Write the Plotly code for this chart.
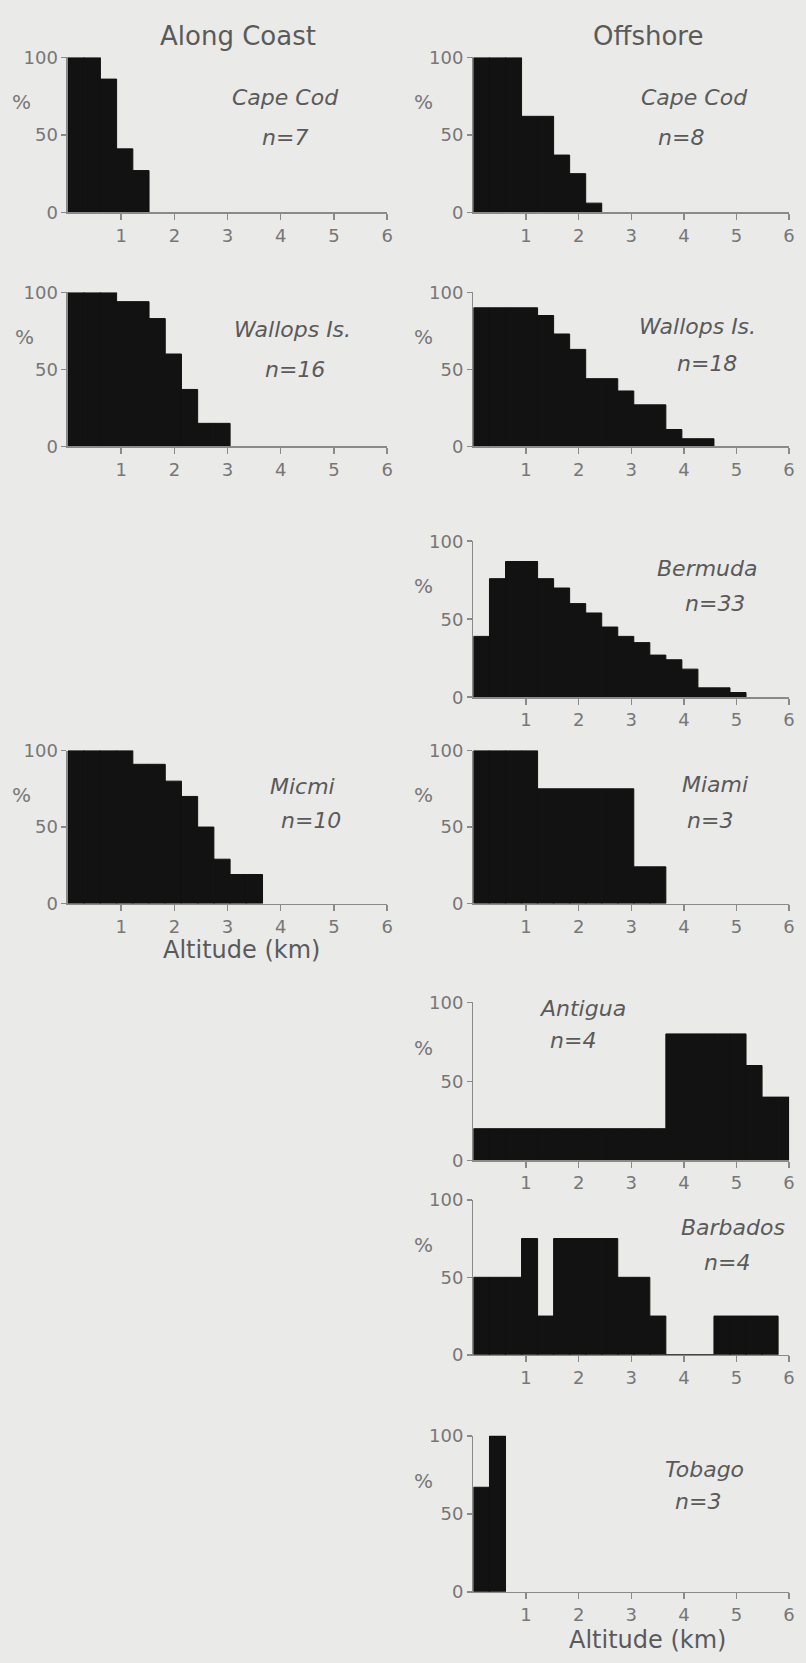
import numpy as np
import plotly.graph_objects as go

# ---------------- data (percent of soundings per 1000-ft altitude bin) ----------------
BIN_KM = 0.3048  # bin width: 1000 ft in km

coast_cape_cod = [100, 100, 86, 41, 27]
coast_wallops = [100, 100, 100, 94, 94, 83, 60, 37, 15, 15]
coast_miami = [100, 100, 100, 100, 91, 91, 80, 70, 50, 29, 19, 19]

off_cape_cod = [100, 100, 100, 62, 62, 37, 25, 6]
off_wallops = [90, 90, 90, 90, 85, 73, 63, 44, 44, 36, 27, 27, 11, 5, 5]
off_bermuda = [39, 76, 87, 87, 76, 70, 60, 54, 45, 39, 35, 27, 24, 18, 6, 6, 3]
off_miami = [100, 100, 100, 100, 75, 75, 75, 75, 75, 75, 24, 24]
off_antigua = [20, 20, 20, 20, 20, 20, 20, 20, 20, 20, 20, 20, 80, 80, 80, 80, 80, 60, 40, 40]
off_barbados = [50, 50, 50, 75, 25, 75, 75, 75, 75, 50, 50, 25, 0, 0, 0, 25, 25, 25, 25]
off_tobago = [67, 100]

column_titles = ["Along Coast", "Offshore"]
x_tick_vals = [1, 2, 3, 4, 5, 6]
y_tick_vals = [0, 50, 100]
x_title = "Altitude (km)"

# ---------------- layout geometry (pixels) ----------------
W, H = 806, 1663
LEFT_X = (68.5, 390.0)
RIGHT_X = (477.0, 795.0)

# (values, station, n label, x-span, (y at 100%, y at 0%), name pos, n pos, % x)
panels = [
    (coast_cape_cod, "Cape Cod", "n=7", LEFT_X, (47, 204), (288, 88), (287, 128), 22),
    (off_cape_cod, "Cape Cod", "n=8", RIGHT_X, (47, 204), (700, 88), (686, 128), 427),
    (coast_wallops, "Wallops Is.", "n=16", LEFT_X, (285, 441), (295, 323), (297, 363), 25),
    (off_wallops, "Wallops Is.", "n=18", RIGHT_X, (285, 441), (703, 320), (712, 357), 427),
    (off_bermuda, "Bermuda", "n=33", RIGHT_X, (537, 695), (713, 565), (720, 600), 427),
    (coast_miami, "Micmi", "n=10", LEFT_X, (749, 904), (305, 785), (313, 820), 22),
    (off_miami, "Miami", "n=3", RIGHT_X, (749, 904), (720, 783), (715, 820), 427),
    (off_antigua, "Antigua", "n=4", RIGHT_X, (1004, 1164), (587, 1010), (577, 1043), 427),
    (off_barbados, "Barbados", "n=4", RIGHT_X, (1204, 1361), (738, 1232), (732, 1267), 427),
    (off_tobago, "Tobago", "n=3", RIGHT_X, (1443, 1601), (710, 1477), (703, 1510), 427),
]

FONT = "DejaVu Sans"
BG = "#eaeae8"
BAR = "#121212"
AXIS = "#8a8a8a"
TICKTXT = "#777777"
TXT = "#5a5a5a"


def px(x):
    return x / W


def py(y):
    return 1 - y / H


fig = go.Figure()
layout = {}
annotations = []

for i, (vals, name, nlab, xspan, (y100, y0), npos, nnpos, pctx) in enumerate(panels, start=1):
    sfx = "" if i == 1 else str(i)
    centers = (np.arange(len(vals)) + 0.5) * BIN_KM
    fig.add_trace(go.Bar(
        x=centers, y=vals, width=BIN_KM,
        marker=dict(color=BAR, line=dict(width=1, color=BAR)),
        xaxis="x" + sfx, yaxis="y" + sfx, showlegend=False, hoverinfo="skip",
    ))
    layout["xaxis" + sfx] = dict(
        domain=[px(xspan[0]), px(xspan[1])], range=[0, 6], anchor="y" + sfx,
        tickmode="array", tickvals=x_tick_vals, ticks="outside", ticklen=6,
        tickwidth=1.5, tickcolor=AXIS, showline=True, linecolor=AXIS, linewidth=1.5,
        showgrid=False, zeroline=False, fixedrange=True,
        tickfont=dict(family=FONT, size=18, color=TICKTXT),
    )
    layout["yaxis" + sfx] = dict(
        domain=[py(y0), py(y100)], range=[0, 100], anchor="x" + sfx,
        tickmode="array", tickvals=y_tick_vals, ticks="outside", ticklen=5,
        tickwidth=1.5, tickcolor=AXIS, showline=True, linecolor=AXIS, linewidth=1.5,
        showgrid=False, zeroline=False, fixedrange=True,
        tickfont=dict(family=FONT, size=18, color=TICKTXT),
    )
    annotations.append(dict(text="<i>%s</i>" % name, x=px(npos[0]), y=py(npos[1]),
                            xref="paper", yref="paper", showarrow=False,
                            xanchor="center", yanchor="middle",
                            font=dict(family=FONT, size=22, color=TXT)))
    annotations.append(dict(text="<i>%s</i>" % nlab, x=px(nnpos[0]), y=py(nnpos[1]),
                            xref="paper", yref="paper", showarrow=False,
                            xanchor="center", yanchor="middle",
                            font=dict(family=FONT, size=22, color=TXT)))
    pcty = y0 - 0.71 * (y0 - y100)
    annotations.append(dict(text="%", x=px(pctx), y=py(pcty),
                            xref="paper", yref="paper", showarrow=False,
                            xanchor="center", yanchor="middle",
                            font=dict(family=FONT, size=20, color=TICKTXT)))

# column titles
for title, (tx, ty) in zip(column_titles, [(240, 25), (653, 25)]):
    annotations.append(dict(text=title, x=px(tx), y=py(ty), xref="paper", yref="paper",
                            showarrow=False, xanchor="center", yanchor="middle",
                            font=dict(family=FONT, size=26, color=TXT)))

# x-axis titles
for (tx, ty) in [(243.5, 951), (652.7, 1650)]:
    annotations.append(dict(text=x_title, x=px(tx), y=py(ty), xref="paper", yref="paper",
                            showarrow=False, xanchor="center", yanchor="middle",
                            font=dict(family=FONT, size=24, color=TXT)))

fig.update_layout(
    width=W, height=H,
    margin=dict(l=0, r=0, t=0, b=0),
    paper_bgcolor=BG, plot_bgcolor=BG,
    barmode="overlay", showlegend=False,
    annotations=annotations,
    **layout,
)

fig.write_html(
    "out.html",
    config={"displayModeBar": False, "staticPlot": True},
    post_script="document.body.style.margin='0px';document.body.style.overflow='hidden';"
                "document.documentElement.style.overflow='hidden';"
                "document.body.style.background='%s';" % BG,
)
